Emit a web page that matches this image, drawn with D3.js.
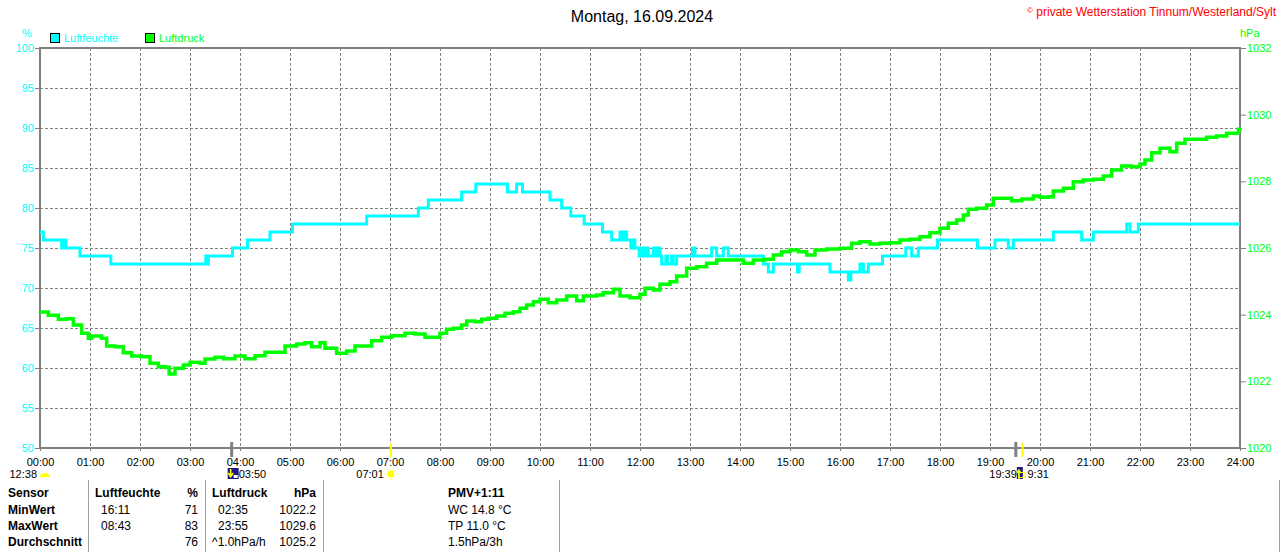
<!DOCTYPE html>
<html>
<head>
<meta charset="utf-8">
<script src="https://cdn.jsdelivr.net/npm/d3@7"></script>
<style>
  body { margin: 0; background: #fff; }
  svg { display: block; font-family: "Liberation Sans", Arial, sans-serif; }
</style>
</head>
<body>
<svg id="chart"></svg>
<script>
// tick labels
const hourLabels = d3.range(0, 25).map(h => (h < 10 ? '0' + h : '' + h) + ':00');
const humTicks = [50, 55, 60, 65, 70, 75, 80, 85, 90, 95, 100];
const presTicks = [1020, 1022, 1024, 1026, 1028, 1030, 1032];

// Luftfeuchte (%) - change points [minute, value]
const humidity = [
  [0, 77], [4, 76], [26, 75], [29, 76], [31, 75], [48, 74], [85, 73], [199, 74], [200, 73], [202, 74],
  [231, 75], [249, 76], [276, 77], [303, 78], [392, 79], [454, 80], [466, 81], [506, 82], [523, 83],
  [561, 82], [572, 83], [579, 82], [612, 81], [626, 80], [637, 79], [653, 78], [675, 77], [686, 76],
  [696, 77], [699, 76], [701, 77], [704, 76], [709, 75], [711, 76], [714, 75], [719, 74], [722, 75],
  [725, 74], [727, 75], [730, 74], [736, 75], [739, 74], [742, 75], [744, 74], [746, 73], [751, 74],
  [753, 73], [758, 74], [760, 73], [764, 74], [783, 75], [786, 74], [806, 75], [812, 74], [820, 75],
  [826, 74], [868, 73], [874, 72], [880, 73], [909, 72], [911, 73], [948, 72], [970, 71], [973, 72],
  [984, 73], [988, 72], [994, 73], [1011, 74], [1039, 75], [1046, 74], [1054, 75], [1077, 76],
  [1125, 75], [1146, 76], [1162, 75], [1168, 76], [1216, 77], [1250, 76], [1264, 77], [1304, 78],
  [1308, 77], [1318, 78], [1440, 78]
];

// Luftdruck (hPa) - [minute, value]
const pressure = [
  [0, 1024.08], [10, 1023.98], [22, 1023.86], [32, 1023.88], [40, 1023.69], [50, 1023.44], [58, 1023.29],
  [62, 1023.36], [74, 1023.29], [80, 1023.06], [90, 1023.04], [100, 1022.86], [110, 1022.76], [122, 1022.74],
  [132, 1022.54], [142, 1022.44], [150, 1022.42], [155, 1022.22], [162, 1022.39], [172, 1022.49],
  [180, 1022.57], [192, 1022.54], [198, 1022.67], [210, 1022.72], [220, 1022.68], [234, 1022.76],
  [246, 1022.68], [258, 1022.77], [270, 1022.87], [286, 1022.87], [294, 1023.06], [308, 1023.12],
  [318, 1023.16], [326, 1023.04], [336, 1023.16], [342, 1022.99], [356, 1022.84], [368, 1022.91],
  [378, 1023.06], [390, 1023.06], [398, 1023.22], [410, 1023.32], [422, 1023.37], [438, 1023.44],
  [450, 1023.42], [462, 1023.32], [468, 1023.32], [480, 1023.44], [488, 1023.56], [496, 1023.59],
  [506, 1023.69], [512, 1023.81], [522, 1023.79], [530, 1023.86], [538, 1023.89], [548, 1023.96],
  [558, 1024.04], [568, 1024.09], [576, 1024.19], [584, 1024.29], [592, 1024.39], [600, 1024.46],
  [610, 1024.36], [620, 1024.44], [632, 1024.56], [644, 1024.42], [652, 1024.56], [668, 1024.59],
  [676, 1024.66], [688, 1024.76], [696, 1024.56], [708, 1024.51], [720, 1024.61], [726, 1024.79],
  [736, 1024.74], [744, 1024.91], [756, 1024.99], [764, 1025.16], [776, 1025.39], [788, 1025.44],
  [800, 1025.54], [812, 1025.64], [828, 1025.64], [844, 1025.54], [856, 1025.64], [870, 1025.66],
  [880, 1025.79], [890, 1025.89], [900, 1025.94], [910, 1025.89], [920, 1025.79], [930, 1025.94],
  [944, 1025.97], [960, 1025.99], [974, 1026.14], [984, 1026.19], [996, 1026.12], [1008, 1026.14],
  [1020, 1026.16], [1032, 1026.24], [1044, 1026.26], [1056, 1026.34], [1068, 1026.46], [1080, 1026.59],
  [1090, 1026.74], [1100, 1026.84], [1108, 1026.99], [1114, 1027.16], [1124, 1027.19], [1136, 1027.29],
  [1144, 1027.49], [1156, 1027.49], [1166, 1027.42], [1178, 1027.47], [1192, 1027.56], [1200, 1027.52],
  [1210, 1027.54], [1216, 1027.71], [1228, 1027.79], [1240, 1027.99], [1252, 1028.04], [1264, 1028.06],
  [1276, 1028.16], [1286, 1028.34], [1298, 1028.46], [1310, 1028.44], [1320, 1028.52], [1326, 1028.64],
  [1334, 1028.86], [1344, 1028.99], [1356, 1028.89], [1364, 1029.14], [1374, 1029.26], [1388, 1029.26],
  [1400, 1029.32], [1412, 1029.36], [1424, 1029.44], [1438, 1029.56], [1440, 1029.6]
];

// sun / moon events (minutes)
const moonEvents = [[230, '03:50'], [1171, '9:31']];
const sunEvents = [[421, '07:01'], [1179, '19:39']];
const dayLength = '12:38';

// statistics table
const rowLabels = ['Sensor', 'MinWert', 'MaxWert', 'Durchschnitt'];
const humTimes = ['Luftfeuchte', '16:11', '08:43', ''];
const humValues = ['%', '71', '83', '76'];
const presTimes = ['Luftdruck', '02:35', '23:55', '^1.0hPa/h'];
const presValues = ['hPa', '1022.2', '1029.6', '1025.2'];
const pmvTexts = ['PMV+1:11', 'WC 14.8 °C', 'TP 11.0 °C', '1.5hPa/3h'];

const W = 1280, H = 552;
const m = {left: 40, right: 1240, top: 48, bottom: 448};
const cyan = '#00ffff', green = '#00ff00', grey = '#808080';

const svg = d3.select('#chart').attr('width', W).attr('height', H);
svg.append('rect').attr('width', W).attr('height', H).attr('fill', '#fff');

const x = d3.scaleLinear().domain([0, 1440]).range([m.left, m.right]);
const yH = d3.scaleLinear().domain([50, 100]).range([m.bottom, m.top]);
const yP = d3.scaleLinear().domain([1020, 1032]).range([m.bottom, m.top]);

// grid
const grid = svg.append('g').attr('stroke', grey).attr('stroke-dasharray', '3,2').attr('stroke-width', 1);
grid.selectAll('line.v').data(d3.range(1, 24)).enter().append('line')
    .attr('x1', d => x(d * 60) + .5).attr('x2', d => x(d * 60) + .5)
    .attr('y1', m.top).attr('y2', m.bottom);
grid.selectAll('line.h').data(humTicks.slice(1, -1)).enter().append('line')
    .attr('x1', m.left).attr('x2', m.right)
    .attr('y1', d => yH(d) + .5).attr('y2', d => yH(d) + .5);

// left axis
const axL = svg.append('g').attr('transform', `translate(${m.left},0)`)
    .call(d3.axisLeft(yH).tickValues(humTicks).tickSize(5).tickPadding(1));
axL.select('.domain').remove();
axL.selectAll('line').attr('stroke', grey);
axL.selectAll('text').attr('fill', cyan).style('font-size', '11px').style('font-family', '"Liberation Sans", Arial');

// right axis
const axR = svg.append('g').attr('transform', `translate(${m.right},0)`)
    .call(d3.axisRight(yP).tickValues(presTicks).tickFormat(d3.format('d')).tickSize(6).tickPadding(1));
axR.select('.domain').remove();
axR.selectAll('line').attr('stroke', grey);
axR.selectAll('text').attr('fill', green).style('font-size', '11px').style('font-family', '"Liberation Sans", Arial');

// bottom axis labels
const axB = svg.append('g').attr('transform', `translate(0,${m.bottom})`)
    .call(d3.axisBottom(x).tickValues(d3.range(0, 1441, 60)).tickFormat((d, i) => hourLabels[i]).tickSize(3).tickPadding(7));
axB.select('.domain').remove();
axB.selectAll('line').attr('stroke', grey);
axB.selectAll('text').attr('fill', '#000').style('font-size', '11px').style('font-family', '"Liberation Sans", Arial');

// frame
svg.append('rect').attr('x', m.left).attr('y', m.top)
    .attr('width', m.right - m.left).attr('height', m.bottom - m.top)
    .attr('fill', 'none').attr('stroke', grey).attr('stroke-width', 2);

// axis units
svg.append('text').attr('x', 27).attr('y', 37).attr('text-anchor', 'middle')
    .attr('fill', cyan).style('font-size', '11px').text('%');
svg.append('text').attr('x', 1240).attr('y', 37)
    .attr('fill', green).style('font-size', '11px').text('hPa');

// series
svg.append('path').datum(humidity)
    .attr('d', d3.line().x(d => x(d[0])).y(d => yH(d[1])).curve(d3.curveStepAfter))
    .attr('fill', 'none').attr('stroke', cyan).attr('stroke-width', 3);
svg.append('path').datum(pressure)
    .attr('d', d3.line().x(d => x(d[0])).y(d => yP(d[1])).curve(d3.curveStepAfter))
    .attr('fill', 'none').attr('stroke', green).attr('stroke-width', 3.5);

// legend
const legend = svg.append('g');
[['Luftfeuchte', cyan, 50], ['Luftdruck', green, 145]].forEach(([name, col, lx]) => {
  legend.append('rect').attr('x', lx + .5).attr('y', 33.5).attr('width', 9).attr('height', 9)
      .attr('fill', col).attr('stroke', '#000');
  legend.append('text').attr('x', lx + 14).attr('y', 42).attr('fill', col)
      .style('font-size', '11px').text(name);
});

// title + copyright
svg.append('text').attr('x', 642).attr('y', 22).attr('text-anchor', 'middle')
    .style('font-size', '16px').attr('fill', '#000').text('Montag, 16.09.2024');
svg.append('text').attr('x', 1276).attr('y', 16).attr('text-anchor', 'end')
    .attr('fill', '#ff0000').style('font-size', '12px')
    .html('<tspan font-size="8" dy="-3">©</tspan><tspan dy="3"> private Wetterstation Tinnum/Westerland/Sylt</tspan>');

// sun / moon marks on the time axis
const events = svg.append('g');
events.selectAll('line.moon').data(moonEvents).enter().append('line')
    .attr('x1', d => x(d[0])).attr('x2', d => x(d[0]))
    .attr('y1', 442).attr('y2', 457).attr('stroke', grey).attr('stroke-width', 3);
events.selectAll('line.sun').data(sunEvents).enter().append('line')
    .attr('x1', d => x(d[0])).attr('x2', d => x(d[0]))
    .attr('y1', 443).attr('y2', 457).attr('stroke', '#ffff00').attr('stroke-width', 2);

// moon rise icon + label
const mr = x(moonEvents[0][0]);
events.append('rect').attr('x', mr - 4).attr('y', 468).attr('width', 11).attr('height', 11).attr('fill', '#1a1a80');
events.append('path').attr('d', `M${mr - 1},469 v6 M${mr - 3.5},473 l2.5,3.5 l2.5,-3.5`)
    .attr('stroke', '#ffff00').attr('stroke-width', 1.6).attr('fill', 'none');
events.append('rect').attr('x', mr + 2).attr('y', 475).attr('width', 4).attr('height', 3).attr('fill', '#fff');
events.append('text').attr('x', mr + 7).attr('y', 478).style('font-size', '11px').text(moonEvents[0][1]);

// sunrise icon + label
const sr = x(sunEvents[0][0]);
events.append('circle').attr('cx', sr).attr('cy', 474).attr('r', 3.5).attr('fill', '#ffff00');
events.append('g').selectAll('line').data(d3.range(8)).enter().append('line')
    .attr('x1', d => sr + Math.cos(d * Math.PI / 4) * 4.5).attr('y1', d => 474 + Math.sin(d * Math.PI / 4) * 4.5)
    .attr('x2', d => sr + Math.cos(d * Math.PI / 4) * 6.5).attr('y2', d => 474 + Math.sin(d * Math.PI / 4) * 6.5)
    .attr('stroke', '#ffff60').attr('stroke-width', 1);
events.append('text').attr('x', sr - 7).attr('y', 478).attr('text-anchor', 'end')
    .style('font-size', '11px').text(sunEvents[0][1]);

// sunset / moonset cluster
const ss = x(sunEvents[1][0]), ms = x(moonEvents[1][0]);
events.append('rect').attr('x', ms + 1).attr('y', 467).attr('width', 6).attr('height', 12).attr('fill', '#1a1a80');
events.append('path').attr('d', `M${ms + 3},479 v-8 M${ms + 1},473 l2,-3 l2,3`)
    .attr('stroke', '#ffff00').attr('stroke-width', 1.5).attr('fill', 'none');
events.append('rect').attr('x', ss - 3.5).attr('y', 472.5).attr('width', 6).attr('height', 5)
    .attr('fill', 'none').attr('stroke', '#ffff00');
events.append('text').attr('x', ms + 1).attr('y', 478).attr('text-anchor', 'end')
    .style('font-size', '11px').text(sunEvents[1][1]);
events.append('text').attr('x', ss + 5).attr('y', 478)
    .style('font-size', '11px').text(moonEvents[1][1]);

// day length
events.append('path').attr('d', 'M40,477 a5,4 0 0 1 10,0 z').attr('fill', '#ffff00');
events.append('text').attr('x', 37).attr('y', 478).attr('text-anchor', 'end')
    .style('font-size', '11px').text(dayLength);

// statistics table
const table = svg.append('g').style('font-size', '12px').attr('fill', '#000');
const rowY = [497, 514, 530, 546];
table.selectAll('line').data([88.5, 205.5, 323.5, 559.5, 1279.5]).enter().append('line')
    .attr('x1', d => d).attr('x2', d => d).attr('y1', 480).attr('y2', 552)
    .attr('stroke', '#a0a0a0');
const cell = (txt, cx, cy, anchor, bold) => table.append('text')
    .attr('x', cx).attr('y', cy).attr('text-anchor', anchor)
    .style('font-weight', bold ? 'bold' : 'normal').text(txt);
rowY.forEach((ry, i) => {
  cell(rowLabels[i], 8, ry, 'start', true);
  cell(humTimes[i], i === 0 ? 95 : 101, ry, 'start', i === 0);
  cell(humValues[i], 198, ry, 'end', i === 0);
  cell(presTimes[i], (i === 1 || i === 2) ? 218 : 212, ry, 'start', i === 0);
  cell(presValues[i], 316, ry, 'end', i === 0);
  cell(pmvTexts[i], 448, ry, 'start', i === 0);
});
</script>
</body>
</html>
